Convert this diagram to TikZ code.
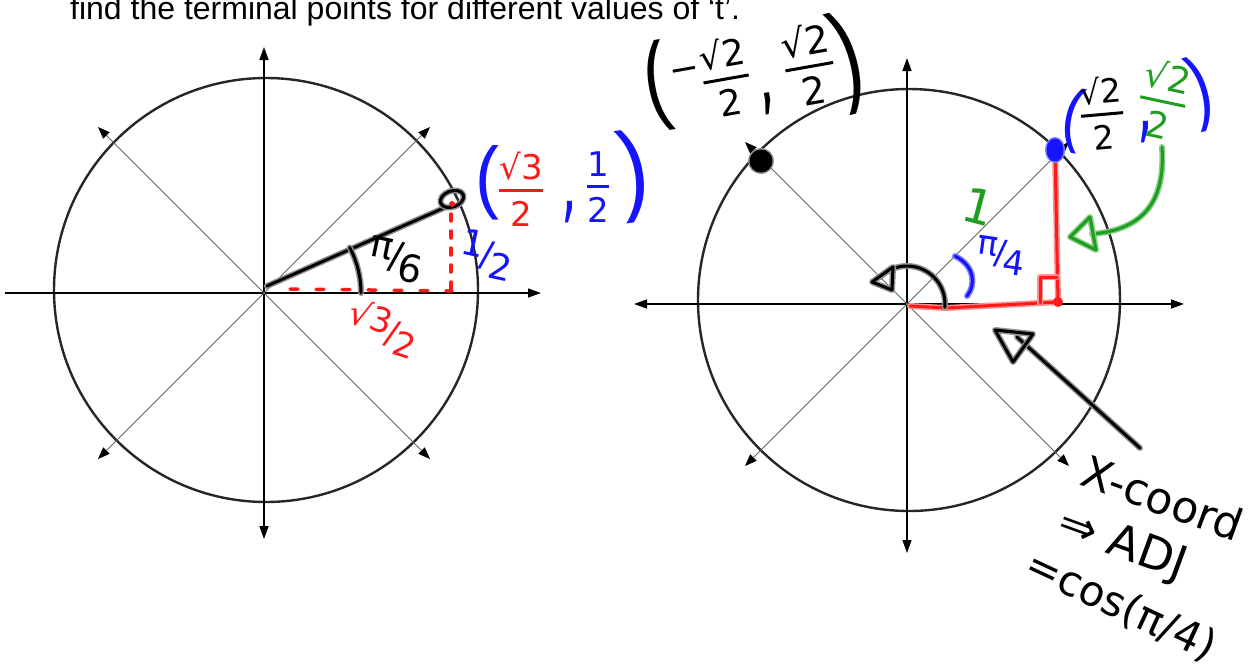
\documentclass[tikz,border=0pt]{standalone}
\usepackage{amsmath}
\usepackage{graphicx}
\usepackage{fontspec}
\setmainfont{Liberation Sans}
\newfontfamily\hw{DejaVu Sans}
\newfontfamily\pf{Liberation Sans}
\usetikzlibrary{arrows.meta}
\definecolor{mred}{HTML}{FF1A1A}
\definecolor{rh}{HTML}{FF9090}
\definecolor{mblue}{HTML}{1414FF}
\definecolor{bh}{HTML}{8080FF}
\definecolor{mgreen}{HTML}{1E9E1E}
\definecolor{gh}{HTML}{88CC88}
\definecolor{kh}{HTML}{909090}
\newcommand\hfr[2]{\ensuremath{\genfrac{}{}{3pt}{0}{\mbox{#1}}{\mbox{#2}}}}
\newcommand\sfr[2]{#1\kern-.06em\raisebox{-.22em}{/}\kern-.06em\raisebox{-.48em}{#2}}
\newcommand\bp[3]{\scalebox{#2}[#3]{#1}}
\tikzset{
  >={Triangle[length=13pt,width=9pt]},
  ring/.style={draw=black!85, line width=2.4pt},
  axisline/.style={draw=black, line width=1.4pt},
  diag/.style={draw=black!60, line width=1pt, -{Triangle[length=12pt,width=9pt,color=black]}},
  pk/.style={draw=black, line width=3pt, line cap=round, line join=round,
    preaction={draw=kh, line width=6pt, line cap=round, line join=round}},
  pr/.style={draw=mred, line width=3pt, line cap=round, line join=round,
    preaction={draw=rh, line width=6pt, line cap=round, line join=round}},
  pb/.style={draw=mblue, line width=3pt, line cap=round, line join=round,
    preaction={draw=bh, line width=6pt, line cap=round, line join=round}},
  pg/.style={draw=mgreen, line width=3pt, line cap=round, line join=round,
    preaction={draw=gh, line width=6pt, line cap=round, line join=round}},
  hnd/.style={font=\hw\fontsize{#1}{#1}\selectfont, inner sep=0pt},
  par/.style={font=\pf\fontsize{40}{40}\selectfont, inner sep=0pt},
}
\begin{document}
\begin{tikzpicture}[x=1pt,y=-1pt]
\useasboundingbox (0,0) rectangle (1256,670);

% title
\node[anchor=base west, inner sep=0pt, font=\fontsize{32}{38}\selectfont] (title) at (70,19)
  {find the terminal points for different values of ‘t’.};

% ---------- left unit circle ----------
\coordinate (O1) at (264,293);
\draw[ring] (266,290) circle[radius=212];
\draw[axisline,->] (5,293) -- (541,293);
\draw[axisline,<->] (264,539) -- (264,47);
\draw[diag] (O1) -- ++(166,-166);
\draw[diag] (O1) -- ++(-166,-166);
\draw[diag] (O1) -- ++(-166,166);
\draw[diag] (O1) -- ++(166,166);

% ---------- right unit circle ----------
\coordinate (O2) at (907,304);
\draw[ring] (909,300) circle[radius=211];
\draw[axisline,<->] (634,304) -- (1184,304);
\draw[axisline,<->] (907,553) -- (907,58);
\draw[diag] (O2) -- ++(162,-162);
\draw[diag] (O2) -- ++(-162,-162);
\draw[diag] (O2) -- ++(-162,162);
\draw[diag] (O2) -- ++(162,162);

% ---------- left annotations ----------
\draw[mred, line width=3.5pt, line cap=round, dash pattern=on 8pt off 18pt] (290,289) -- (452,291);
\draw[mred, line width=3.5pt, line cap=round, dash pattern=on 7pt off 10pt] (451,214) -- (451,298);
\coordinate (P1) at (452,199);
\draw[pk] (267,286) -- (446,207);
\draw[pk, rotate around={20:(P1)}] (P1) ellipse[x radius=12, y radius=8];
\fill[mred] (452,204) circle[radius=3];
\draw[pk] plot[domain=0:28, samples=15, smooth] ({264+97*cos(\x)},{293-97*sin(\x)});
\node[hnd=38, text=black, rotate=-12] (pi6) at (396,260) {\sfr{π}{6}};
\node[hnd=34, text=mred, rotate=-18] (r32) at (383,328) {\sfr{√3}{2}};
\node[hnd=36, text=mblue, rotate=-12] (half) at (487,255) {\sfr{1}{2}};
\node[par, text=mblue] (lp1) at (487,183) {\bp{(}{1.8}{2.0}};
\node[hnd=34, text=mred] (fr1) at (521,189) {\hfr{√3}{2}};
\node[hnd=50, text=mblue] (cm1) at (569,212) {\scalebox{1}[1.8]{,}};
\node[hnd=34, text=mblue] (fr2) at (598,187) {\hfr{1}{2}};
\node[par, text=mblue, rotate=8] (rp1) at (634,176) {\bp{)}{2.2}{2.5}};

% ---------- right annotations ----------
% upper-left point label
\node[par, text=black, rotate=10] (lp2) at (657,86) {\bp{(}{1.8}{2.45}};
\node[hnd=36, text=black, rotate=10] (fr3) at (711,80) {\raisebox{.3em}{−}\hfr{√2}{2}};
\node[hnd=50, text=black, rotate=10] (cm2) at (768,104) {\scalebox{1}[1.8]{,}};
\node[hnd=38, text=black, rotate=10] (fr4) at (809,65) {\hfr{√2}{2}};
\node[par, text=black, rotate=15] (rp2) at (849,62) {\bp{)}{2.0}{2.8}};
\draw[pk, fill=black] (761,161) circle[radius=10];

% red triangle
\draw[pr] (910,306) -- (946,308) -- (1058,302) -- (1055,150);
\draw[pr] (1040,303) -- (1040,277) -- (1057,277);
\fill[mred] (1058,302) circle[radius=5];
\draw[pb, fill=mblue] (1055,150) ellipse[x radius=7, y radius=10];

% upper-right point label
\node[par, text=mblue, rotate=-10] (lp3) at (1072,120) {\bp{(}{1.5}{1.75}};
\node[hnd=33, text=black, rotate=5] (fr5) at (1102,113) {\hfr{√2}{2}};
\node[hnd=50, text=mblue] (cm3) at (1145,132) {\scalebox{1}[1.8]{,}};
\node[hnd=36, text=mgreen, rotate=-12] (fr6) at (1163,100) {\hfr{√2}{2}};
\node[par, text=mblue, rotate=15] (rp3) at (1201,93) {\bp{)}{1.6}{2.05}};

% green arrow
\draw[pg] (1162,147) .. controls (1166,205) and (1140,230) .. (1092,234);
\draw[pg] (1070,237) -- (1090,217) -- (1096,250) -- cycle;

% angle marks
\node[hnd=48, text=mgreen, rotate=-15] (one) at (979,207) {1};
\draw[pb] (955,256) .. controls (975,266) and (976,285) .. (967,296);
\node[hnd=34, text=mblue, rotate=-8] (pi4) at (1001,256) {\sfr{π}{4}};
\draw[pk] plot[domain=-5:135, samples=20, smooth] ({907+38*cos(\x)},{304-38*sin(\x)});
\draw[pk] (872,282) -- (893,267) -- (892,290) -- cycle;

% big arrow
\coordinate (ba1) at (1140,448);
\coordinate (ba2) at (1017,337);
\draw[pk] (ba1) -- (ba2);
\draw[pk] (995,330) -- (1033,334) -- (1013,362) -- cycle;

% text
\node[hnd=44, text=black, rotate=-20] (xc) at (1163,498) {X-coord};
\node[hnd=46, text=black, rotate=-20] (adj) at (1122,546) {⇒ ADJ};
\node[hnd=42, text=black, rotate=-25] (cs) at (1121,606) {=cos(π/4)};
\end{tikzpicture}
\end{document}
